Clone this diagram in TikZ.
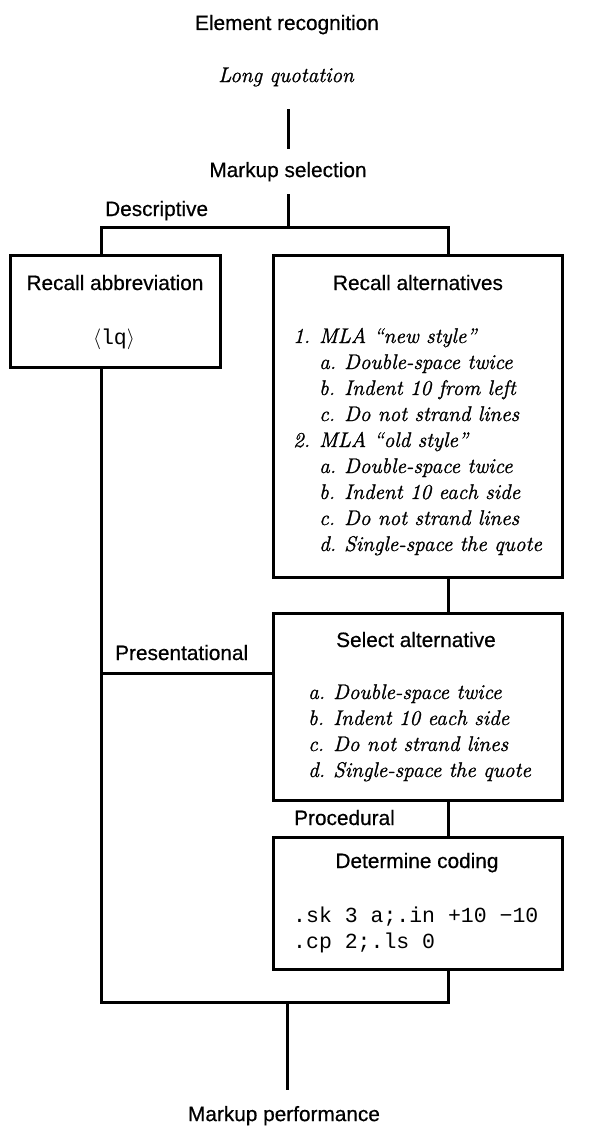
\documentclass[tikz,border=0pt]{standalone}
\usepackage{fontspec}
\newfontfamily\hsans{Liberation Sans}[FakeBold=0.6]
\newfontfamily\cmono{Liberation Mono}
\newfontfamily\lmit{Latin Modern Roman}[ItalicFeatures={FakeBold=1.2}]
\tikzset{
  lbl/.style={font=\hsans\fontsize{20.8}{24}\selectfont, inner sep=0pt},
  itl/.style={font=\lmit\itshape\fontsize{21.2}{26}\selectfont, inner sep=0pt},
  mono/.style={font=\cmono\fontsize{21.5}{26}\selectfont, inner sep=0pt},
  boxst/.style={draw, line width=3pt, inner sep=0pt},
  conn/.style={line width=3pt, line cap=rect, line join=miter}
}
\begin{document}
\begin{tikzpicture}[x=1pt,y=-1pt]
\useasboundingbox (0,0) rectangle (591,1126);
% top texts
\node[lbl, anchor=base] (er) at (287,30) {Element recognition};
\node[itl, minimum height=66pt] (lq) at (286,77) {Long quotation};
\node[lbl, minimum height=47pt] (ms) at (288,171.7) {Markup selection};
\node[lbl, minimum height=55pt] (mp) at (284,1115.7) {Markup performance};
% boxes
\node[boxst, minimum width=210pt, minimum height=112pt] (rab) at (115,311) {};
\node[boxst, minimum width=289pt, minimum height=322pt] (ralt) at (417.5,416) {};
\node[boxst, minimum width=289pt, minimum height=187pt] (sel) at (417.5,706.5) {};
\node[boxst, minimum width=289pt, minimum height=132pt] (det) at (417.5,903) {};
% box texts
\node[lbl, anchor=base] (rabt) at (115,290) {Recall abbreviation};
\node[mono, anchor=base] (rabc) at (114,344) {$\langle$lq$\rangle$};
\node[lbl, anchor=base] (raltt) at (418,290) {Recall alternatives};
\node[itl, anchor=base west] (raltl) at (293,343) {\begin{tabular}[t]{@{}p{26pt}@{}p{25pt}@{}l@{}}
1. & \multicolumn{2}{@{}l@{}}{MLA “new style”}\\
 & a. & Double-space twice\\
 & b. & Indent 10 from left\\
 & c. & Do not strand lines\\
2. & \multicolumn{2}{@{}l@{}}{MLA “old style”}\\
 & a. & Double-space twice\\
 & b. & Indent 10 each side\\
 & c. & Do not strand lines\\
 & d. & Single-space the quote
\end{tabular}};
\node[lbl, anchor=base] (selt) at (416,647) {Select alternative};
\node[itl, anchor=base west] (sell) at (308,699) {\begin{tabular}[t]{@{}p{25pt}@{}l@{}}
a. & Double-space twice\\
b. & Indent 10 each side\\
c. & Do not strand lines\\
d. & Single-space the quote
\end{tabular}};
\node[lbl, anchor=base] (dett) at (417,868) {Determine coding};
\node[mono, anchor=base west] (code) at (293,922) {\begin{tabular}[t]{@{}l@{}}
.sk 3 a;.in +10 −10\\
.cp 2;.ls 0
\end{tabular}};
% labels
\node[lbl, anchor=base west] (desc) at (105,216) {Descriptive};
\node[lbl, anchor=base west] (pres) at (115,660) {Presentational};
\node[lbl, anchor=base west] (proc) at (294,825) {Procedural};
% junctions
\coordinate (dl) at (101,227);
\coordinate (dr) at (448,227);
\coordinate (dm) at (288,227);
\coordinate (bl) at (101,1002);
\coordinate (br) at (448,1002);
\coordinate (bm) at (287,1002);
\coordinate (pl) at (101,673);
% connectors
\draw[conn] (ms.north |- lq.south) -- (ms.north);
\draw[conn] (ms.south) -- (dm);
\draw[conn] (dl |- rab.north) -- (dl) -- (dr) -- (dr |- ralt.north);
\draw[conn] (dr |- ralt.south) -- (dr |- sel.north);
\draw[conn] (dr |- sel.south) -- (dr |- det.north);
\draw[conn] (bl |- rab.south) -- (bl) -- (br) -- (br |- det.south);
\draw[conn] (pl) -- (pl -| sel.west);
\draw[conn] (bm) -- (bm |- mp.north);
\end{tikzpicture}
\end{document}
